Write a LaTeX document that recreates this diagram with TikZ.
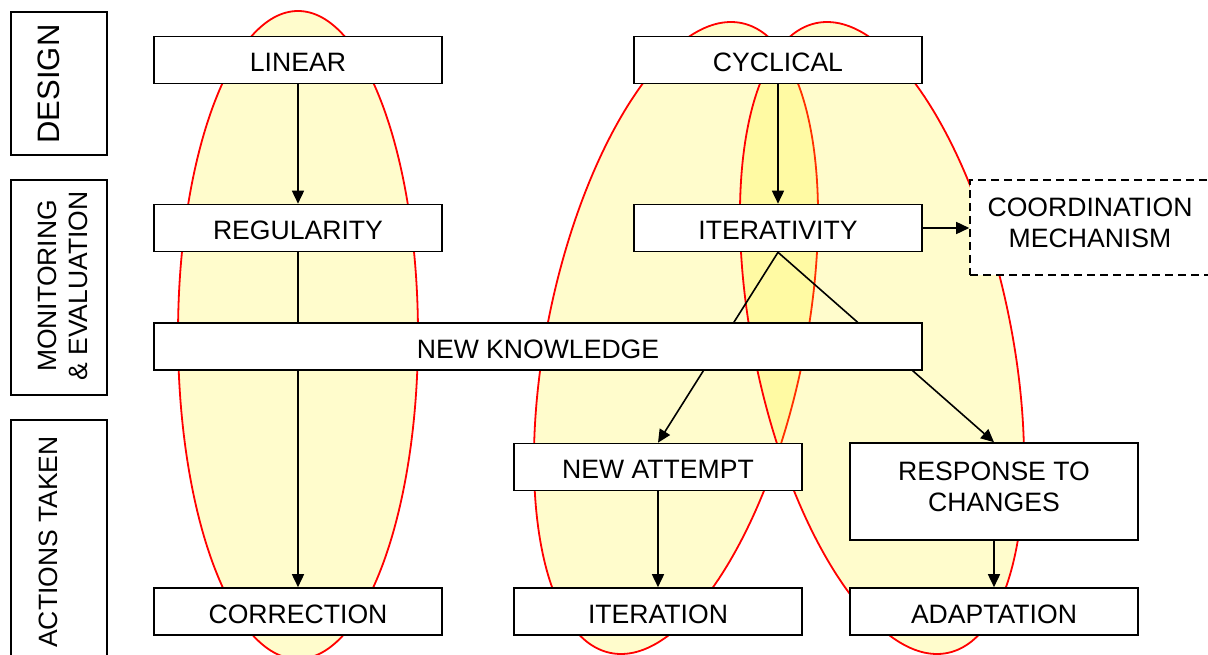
\documentclass[tikz,border=0pt]{standalone}
\usepackage{fontspec}
\setmainfont{Liberation Sans}
\usetikzlibrary{arrows.meta,backgrounds}
\begin{document}
\begin{tikzpicture}[x=1pt,y=-1pt,
  boxfont/.style={font=\fontsize{26.6pt}{31pt}\selectfont},
  box/.style={boxfont, draw=black, fill=white, line width=1.6pt, minimum width=288pt, minimum height=47pt, inner sep=0pt, align=center, text height=23pt, text depth=0pt},
  twobox/.style={box, text height=, text depth=},
  twotext/.style={boxfont, align=center, inner sep=0pt},
  lblbox/.style={draw=black, line width=1.6pt, minimum width=96pt, inner sep=0pt},
  lbltext/.style={rotate=90, align=center, inner sep=0pt, font=\fontsize{26.5pt}{31pt}\selectfont},
  oval/.style={draw=red, line width=1.8pt, fill=yellow, fill opacity=0.2},
  conn/.style={draw=black, line width=1.6pt},
  arr/.style={conn, -{Triangle[length=13pt,width=12pt]}}
]
\useasboundingbox (0,0) rectangle (1208,655);

% left label boxes
\node[lblbox, minimum height=143pt] (design) at (59,83.5) {};
\node[lblbox, minimum height=215pt] (monitor) at (59,287.5) {};
\node[lblbox, minimum height=242pt] (actions) at (59,541) {};
\node[lbltext, font=\fontsize{31pt}{36pt}\selectfont] (designtxt) at (49,84) {DESIGN};
\node[lbltext] (monitortxt) at (62.5,286) {MONITORING\\\& EVALUATION};
\node[lbltext] (actionstxt) at (48,542) {ACTIONS TAKEN};

% main boxes
\node[box] (lin) at (298,60) {LINEAR};
\node[box] (cyc) at (778,60) {CYCLICAL};
\node[box] (reg) at (298,228) {REGULARITY};
\node[box] (itv) at (778,228) {ITERATIVITY};
\node[twobox, dash pattern=on 8pt off 5pt, minimum width=240pt, minimum height=95pt,
      label={[twotext, yshift=5pt]center:{COORDINATION\\MECHANISM}}] (coord) at (1090,227.5) {};
\node[box, minimum width=768pt] (nk) at (538,346.5) {NEW KNOWLEDGE};
\node[box] (natt) at (658,467) {NEW ATTEMPT};
\node[twobox, minimum height=97pt,
      label={[twotext, yshift=5pt]center:{RESPONSE TO\\CHANGES}}] (resp) at (994,491.5) {};
\node[box] (cor) at (298,611.5) {CORRECTION};
\node[box] (iter) at (658,611.5) {ITERATION};
\node[box] (adapt) at (994,611.5) {ADAPTATION};

\begin{scope}[on background layer]
  \path[oval] (298,335) ellipse [x radius=120pt, y radius=324pt];
  \path[oval, rotate around={-11.8:(676,338)}] (676,338) ellipse [x radius=128.6pt, y radius=321.7pt];
  \path[oval, rotate around={11.8:(882,338)}] (882,338) ellipse [x radius=128.6pt, y radius=321.7pt];

  \draw[arr] (lin) -- (reg);
  \draw[arr] (reg) -- (cor);
  \draw[arr] (cyc) -- (itv);
  \draw[arr] (itv.east) -- (itv.east -| coord.west);
  \draw[arr] (itv.south) -- (natt.north);
  \draw[arr] (itv.south) -- (resp.north);
  \draw[arr] (natt) -- (iter);
  \draw[arr] (resp) -- (adapt);
\end{scope}
\end{tikzpicture}
\end{document}
